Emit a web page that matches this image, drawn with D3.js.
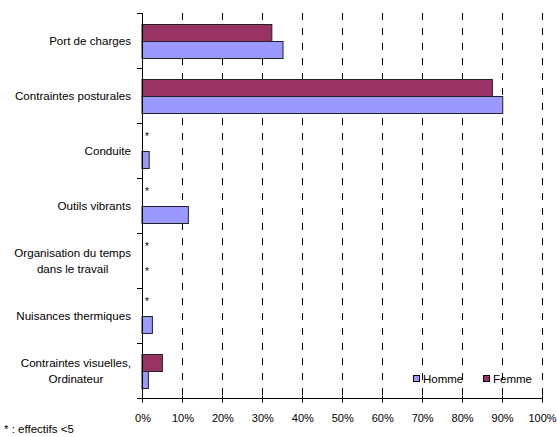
<!DOCTYPE html>
<html>
<head>
<meta charset="utf-8">
<script src="https://cdn.jsdelivr.net/npm/d3@7"></script>
<style>
  body { margin: 0; background: #fff; }
  text { font-family: "Liberation Sans", Arial, sans-serif; fill: #000; }
</style>
</head>
<body>
<div id="chart"></div>
<script>
// categories, top to bottom
var categories = ["Port de charges", "Contraintes posturales", "Conduite", "Outils vibrants",
  "Organisation du temps|dans le travail", "Nuisances thermiques", "Contraintes visuelles,|Ordinateur"];
var series = ["Femme", "Homme"]; // femme drawn on top in each group
var homme = [35.3, 90.3, 1.8, 11.6, null, 2.6, 1.6];
var femme = [32.5, 87.7, null, null, null, null, 5.1];
// "*" = effectifs <5
var hommeSmall = [false, false, false, false, true, false, false];
var femmeSmall = [false, false, true, true, true, true, false];
var xTicks = [0, 10, 20, 30, 40, 50, 60, 70, 80, 90, 100];
var legendItems = ["Homme", "Femme"];
var footnote = "* : effectifs <5";

var width = 557, height = 437;
var colors = { "Homme": "#9999FF", "Femme": "#993366" };

var svg = d3.select("#chart").append("svg")
  .attr("width", width)
  .attr("height", height);

var x = d3.scaleLinear().domain([0, 100]).range([142, 541.5]);
var y = d3.scaleBand().domain(categories).range([13, 398]);
var ySub = d3.scaleBand().domain(series).range([0, y.bandwidth()]).paddingOuter(0.62);

// dashed gridlines
svg.append("g")
  .selectAll("line")
  .data(xTicks.slice(1))
  .enter()
  .append("line")
  .attr("x1", d => Math.round(x(d)) + 0.5)
  .attr("x2", d => Math.round(x(d)) + 0.5)
  .attr("y1", 13)
  .attr("y2", 398)
  .attr("stroke", "#000")
  .attr("stroke-dasharray", "7,8");

// rows for the bars
var rows = [];
categories.forEach(function (c, i) {
  rows.push({ cat: c, s: "Femme", v: femme[i], small: femmeSmall[i] });
  rows.push({ cat: c, s: "Homme", v: homme[i], small: hommeSmall[i] });
});

svg.append("g")
  .selectAll("rect")
  .data(rows.filter(d => d.v != null))
  .enter()
  .append("rect")
  .attr("x", x(0))
  .attr("y", d => Math.round(y(d.cat) + ySub(d.s)) + 0.5)
  .attr("width", d => x(d.v) - x(0))
  .attr("height", Math.round(ySub.bandwidth()))
  .attr("fill", d => colors[d.s])
  .attr("stroke", "#222")
  .attr("stroke-width", 1);

// asterisks for small counts
svg.append("g")
  .selectAll("text")
  .data(rows.filter(d => d.small))
  .enter()
  .append("text")
  .attr("x", x(0) + 3)
  .attr("y", d => y(d.cat) + ySub(d.s) + ySub.bandwidth() / 2 + (d.s == "Femme" ? -2 : 6))
  .style("font-size", "10px")
  .text("*");

// y axis
var yAxis = svg.append("g");
yAxis.append("line")
  .attr("x1", 142.5).attr("x2", 142.5)
  .attr("y1", 13).attr("y2", 398)
  .attr("stroke", "#000");
yAxis.selectAll(".tk")
  .data(categories.concat(["end"]))
  .enter()
  .append("line")
  .attr("x1", 137).attr("x2", 142)
  .attr("y1", (d, i) => Math.round(13 + i * y.step()) + 0.5)
  .attr("y2", (d, i) => Math.round(13 + i * y.step()) + 0.5)
  .attr("stroke", "#000");

// category labels: right aligned block, lines centered inside it
categories.forEach(function (c) {
  var lines = c.split("|");
  var g = yAxis.append("g");
  var texts = lines.map(function (l, j) {
    return g.append("text")
      .attr("y", y(c) + y.bandwidth() / 2 + (j - (lines.length - 1) / 2) * 16)
      .attr("dy", "0.35em")
      .style("font-size", "11.6px")
      .text(l);
  });
  var maxW = d3.max(texts, t => t.node().getComputedTextLength());
  texts.forEach(function (t) {
    t.attr("x", 131 - maxW / 2).attr("text-anchor", "middle");
  });
});

// x axis
var xAxis = svg.append("g").attr("transform", "translate(0,398.5)");
xAxis.append("line")
  .attr("x1", 142).attr("x2", 542)
  .attr("stroke", "#000");
xAxis.selectAll(".tk")
  .data(xTicks)
  .enter()
  .append("line")
  .attr("x1", d => Math.round(x(d)) + 0.5)
  .attr("x2", d => Math.round(x(d)) + 0.5)
  .attr("y1", -3).attr("y2", 4)
  .attr("stroke", "#000");
xAxis.selectAll("text")
  .data(xTicks)
  .enter()
  .append("text")
  .attr("x", d => x(d) + 1)
  .attr("y", 23.5)
  .attr("text-anchor", "middle")
  .style("font-size", "11px")
  .text(d => d + "%");

// legend
var legend = svg.append("g");
var legendX = [413, 483];
legendItems.forEach(function (s, i) {
  legend.append("rect")
    .attr("x", legendX[i] + 0.5).attr("y", 375.5)
    .attr("width", 6).attr("height", 6)
    .attr("fill", colors[s])
    .attr("stroke", "#000");
  legend.append("text")
    .attr("x", legendX[i] + 10).attr("y", 382.5)
    .style("font-size", "11.5px")
    .text(s);
});

svg.append("text")
  .attr("x", 4).attr("y", 432.5)
  .style("font-size", "11.5px")
  .text(footnote);
</script>
</body>
</html>
